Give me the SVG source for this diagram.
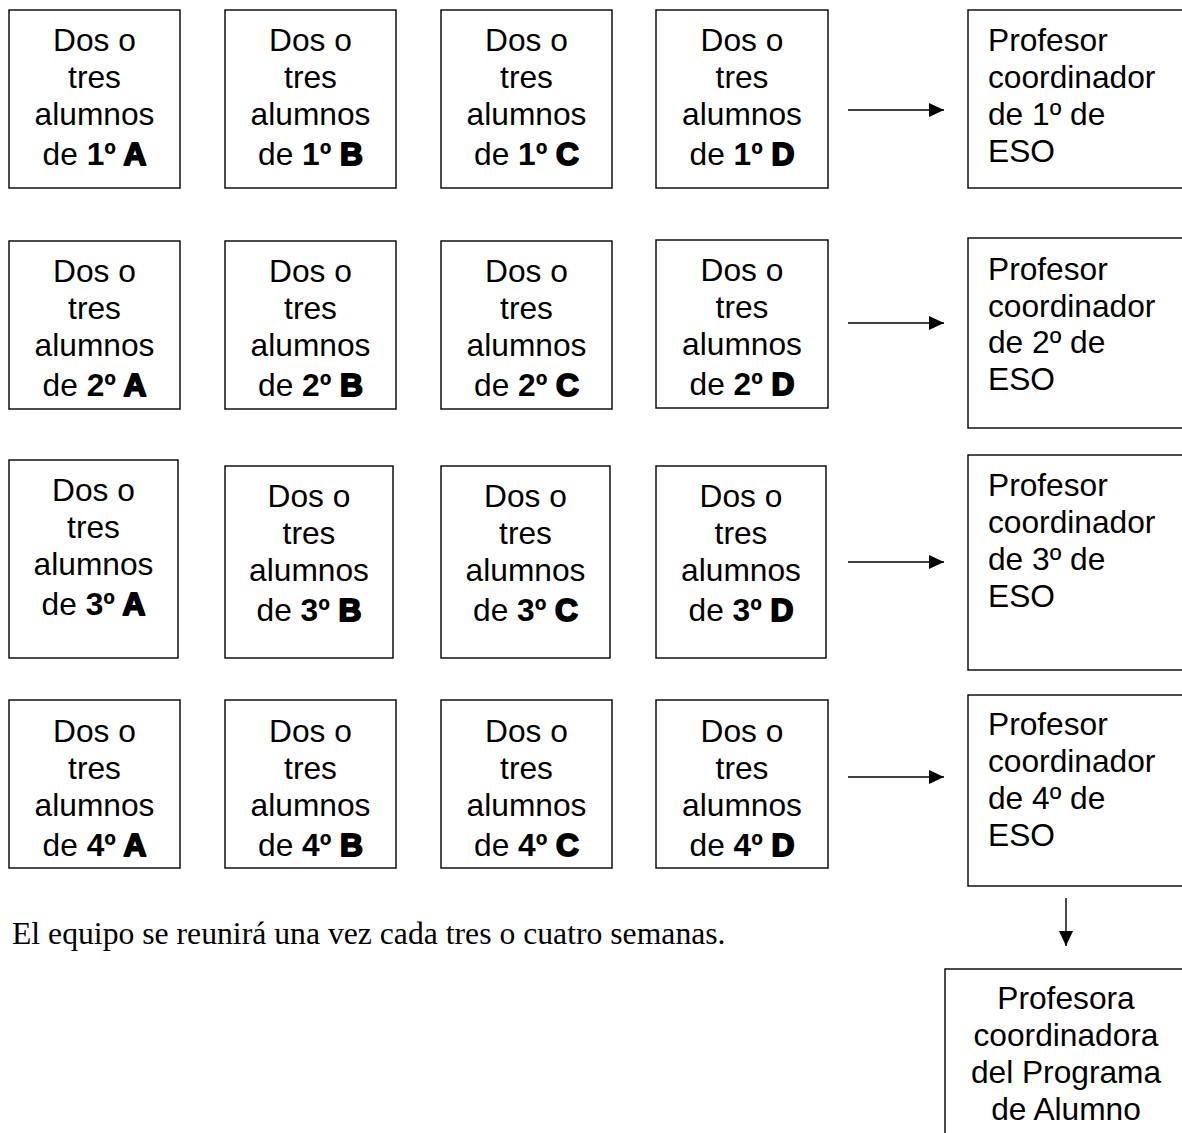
<svg xmlns="http://www.w3.org/2000/svg" width="1182" height="1133" viewBox="0 0 1182 1133">
<defs>
<style>
.box{fill:#fff;stroke:#000;stroke-width:1.4}
.t{font-family:"Liberation Sans",Arial,sans-serif;font-size:31.7px;fill:#000}
.c{text-anchor:middle}
.b{font-weight:bold}
.h{font-weight:bold;stroke:#000;stroke-width:2;stroke-linejoin:round}
.line{stroke:#000;stroke-width:1.4;fill:none}
.s{font-family:"Liberation Serif","Times New Roman",serif;font-size:31.7px;fill:#000}
</style>
<marker id="ah" markerUnits="userSpaceOnUse" markerWidth="16" markerHeight="15" refX="15" refY="7" orient="auto">
<path d="M0,0 L15,7 L0,14 Z" fill="#000"/>
</marker>
</defs>
<rect width="1182" height="1133" fill="#fff"/>

<!-- Row 1 -->
<g id="n1A"><rect class="box" x="9" y="10" width="171" height="178"/>
<text class="t c" x="94.5" y="51">Dos o</text><text class="t c" x="94.5" y="88">tres</text><text class="t c" x="94.5" y="125">alumnos</text>
<text class="t c" x="94.5" y="165">de <tspan class="b">1º </tspan><tspan class="h">A</tspan></text></g>
<g id="n1B"><rect class="box" x="225" y="10" width="171" height="178"/>
<text class="t c" x="310.5" y="51">Dos o</text><text class="t c" x="310.5" y="88">tres</text><text class="t c" x="310.5" y="125">alumnos</text>
<text class="t c" x="310.5" y="165">de <tspan class="b">1º </tspan><tspan class="h">B</tspan></text></g>
<g id="n1C"><rect class="box" x="441" y="10" width="171" height="178"/>
<text class="t c" x="526.5" y="51">Dos o</text><text class="t c" x="526.5" y="88">tres</text><text class="t c" x="526.5" y="125">alumnos</text>
<text class="t c" x="526.5" y="165">de <tspan class="b">1º </tspan><tspan class="h">C</tspan></text></g>
<g id="n1D"><rect class="box" x="656" y="10" width="172" height="178"/>
<text class="t c" x="742" y="51">Dos o</text><text class="t c" x="742" y="88">tres</text><text class="t c" x="742" y="125">alumnos</text>
<text class="t c" x="742" y="165">de <tspan class="b">1º </tspan><tspan class="h">D</tspan></text></g>
<g id="p1"><rect class="box" x="968" y="10" width="230" height="178"/>
<text class="t" x="988" y="51">Profesor</text><text class="t" x="988" y="88">coordinador</text><text class="t" x="988" y="125">de 1º de</text><text class="t" x="988" y="162">ESO</text></g>

<!-- Row 2 -->
<g id="n2A"><rect class="box" x="9" y="241" width="171" height="168"/>
<text class="t c" x="94.5" y="282">Dos o</text><text class="t c" x="94.5" y="319">tres</text><text class="t c" x="94.5" y="356">alumnos</text>
<text class="t c" x="94.5" y="396">de <tspan class="b">2º </tspan><tspan class="h">A</tspan></text></g>
<g id="n2B"><rect class="box" x="225" y="241" width="171" height="168"/>
<text class="t c" x="310.5" y="282">Dos o</text><text class="t c" x="310.5" y="319">tres</text><text class="t c" x="310.5" y="356">alumnos</text>
<text class="t c" x="310.5" y="396">de <tspan class="b">2º </tspan><tspan class="h">B</tspan></text></g>
<g id="n2C"><rect class="box" x="441" y="241" width="171" height="168"/>
<text class="t c" x="526.5" y="282">Dos o</text><text class="t c" x="526.5" y="319">tres</text><text class="t c" x="526.5" y="356">alumnos</text>
<text class="t c" x="526.5" y="396">de <tspan class="b">2º </tspan><tspan class="h">C</tspan></text></g>
<g id="n2D"><rect class="box" x="656" y="240" width="172" height="168"/>
<text class="t c" x="742" y="281">Dos o</text><text class="t c" x="742" y="318">tres</text><text class="t c" x="742" y="355">alumnos</text>
<text class="t c" x="742" y="395">de <tspan class="b">2º </tspan><tspan class="h">D</tspan></text></g>
<g id="p2"><rect class="box" x="968" y="238" width="230" height="190"/>
<text class="t" x="988" y="280">Profesor</text><text class="t" x="988" y="316.5">coordinador</text><text class="t" x="988" y="353">de 2º de</text><text class="t" x="988" y="389.5">ESO</text></g>

<!-- Row 3 -->
<g id="n3A"><rect class="box" x="9" y="460" width="169" height="198"/>
<text class="t c" x="93.5" y="501">Dos o</text><text class="t c" x="93.5" y="538">tres</text><text class="t c" x="93.5" y="575">alumnos</text>
<text class="t c" x="93.5" y="615">de <tspan class="b">3º </tspan><tspan class="h">A</tspan></text></g>
<g id="n3B"><rect class="box" x="225" y="466" width="168" height="192"/>
<text class="t c" x="309" y="507">Dos o</text><text class="t c" x="309" y="544">tres</text><text class="t c" x="309" y="581">alumnos</text>
<text class="t c" x="309" y="621">de <tspan class="b">3º </tspan><tspan class="h">B</tspan></text></g>
<g id="n3C"><rect class="box" x="441" y="466" width="169" height="192"/>
<text class="t c" x="525.5" y="507">Dos o</text><text class="t c" x="525.5" y="544">tres</text><text class="t c" x="525.5" y="581">alumnos</text>
<text class="t c" x="525.5" y="621">de <tspan class="b">3º </tspan><tspan class="h">C</tspan></text></g>
<g id="n3D"><rect class="box" x="656" y="466" width="170" height="192"/>
<text class="t c" x="741" y="507">Dos o</text><text class="t c" x="741" y="544">tres</text><text class="t c" x="741" y="581">alumnos</text>
<text class="t c" x="741" y="621">de <tspan class="b">3º </tspan><tspan class="h">D</tspan></text></g>
<g id="p3"><rect class="box" x="968" y="455" width="230" height="215"/>
<text class="t" x="988" y="496">Profesor</text><text class="t" x="988" y="533">coordinador</text><text class="t" x="988" y="570">de 3º de</text><text class="t" x="988" y="607">ESO</text></g>

<!-- Row 4 -->
<g id="n4A"><rect class="box" x="9" y="700" width="171" height="168"/>
<text class="t c" x="94.5" y="742">Dos o</text><text class="t c" x="94.5" y="779">tres</text><text class="t c" x="94.5" y="816">alumnos</text>
<text class="t c" x="94.5" y="856">de <tspan class="b">4º </tspan><tspan class="h">A</tspan></text></g>
<g id="n4B"><rect class="box" x="225" y="700" width="171" height="168"/>
<text class="t c" x="310.5" y="742">Dos o</text><text class="t c" x="310.5" y="779">tres</text><text class="t c" x="310.5" y="816">alumnos</text>
<text class="t c" x="310.5" y="856">de <tspan class="b">4º </tspan><tspan class="h">B</tspan></text></g>
<g id="n4C"><rect class="box" x="441" y="700" width="171" height="168"/>
<text class="t c" x="526.5" y="742">Dos o</text><text class="t c" x="526.5" y="779">tres</text><text class="t c" x="526.5" y="816">alumnos</text>
<text class="t c" x="526.5" y="856">de <tspan class="b">4º </tspan><tspan class="h">C</tspan></text></g>
<g id="n4D"><rect class="box" x="656" y="700" width="172" height="168"/>
<text class="t c" x="742" y="742">Dos o</text><text class="t c" x="742" y="779">tres</text><text class="t c" x="742" y="816">alumnos</text>
<text class="t c" x="742" y="856">de <tspan class="b">4º </tspan><tspan class="h">D</tspan></text></g>
<g id="p4"><rect class="box" x="968" y="695" width="230" height="191"/>
<text class="t" x="988" y="735">Profesor</text><text class="t" x="988" y="772">coordinador</text><text class="t" x="988" y="809">de 4º de</text><text class="t" x="988" y="846">ESO</text></g>

<!-- Bottom coordinator -->
<g id="pc"><rect class="box" x="945" y="969" width="260" height="200"/>
<text class="t c" x="1066" y="1009">Profesora</text><text class="t c" x="1066" y="1046">coordinadora</text><text class="t c" x="1066" y="1083">del Programa</text><text class="t c" x="1066" y="1120">de Alumno</text></g>

<!-- Connectors -->
<g id="connectors">
<line class="line" x1="848" y1="110" x2="944" y2="110" marker-end="url(#ah)"/>
<line class="line" x1="848" y1="323" x2="944" y2="323" marker-end="url(#ah)"/>
<line class="line" x1="848" y1="562" x2="944" y2="562" marker-end="url(#ah)"/>
<line class="line" x1="848" y1="777" x2="944" y2="777" marker-end="url(#ah)"/>
<line class="line" x1="1066" y1="898" x2="1066" y2="946" marker-end="url(#ah)"/>
</g>

<text class="s" x="12" y="944">El equipo se reunirá una vez cada tres o cuatro semanas.</text>
</svg>
